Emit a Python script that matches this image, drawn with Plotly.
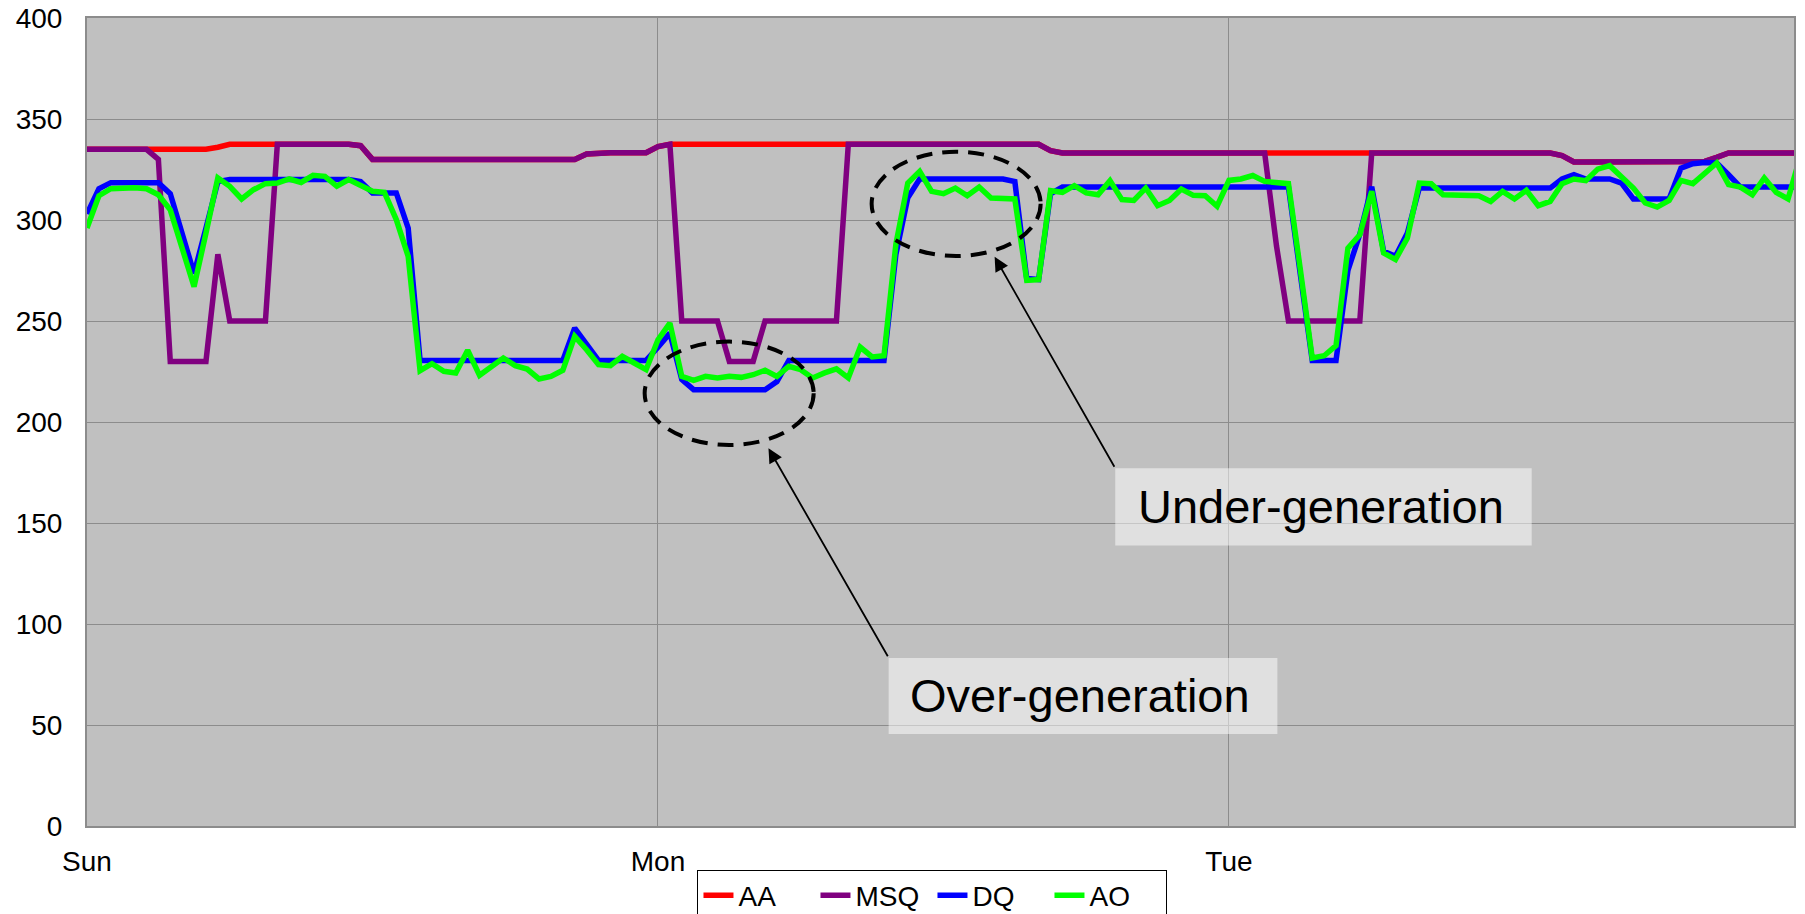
import plotly.graph_objects as go

# half-hour slots starting Sunday 00:00
slots = list(range(145))
day_tick_pos = [0, 48, 96]
day_labels = ["Sun", "Mon", "Tue"]

aa = ([335]*6 + [335]*5 + [336] + [337.5]*4 + [337.5]*7 + [336.8] + [330]*18 + [332.7] + [333.3]*5
      + [336.3, 337.5] + [337.5]*14 + [337.5]*17 + [334.3] + [333.2]*18 + [333.2]*8
      + [333.2]*16 + [331.9] + [328.7]*11 + [329, 331] + [333.2]*8)

msq = ([335]*6 + [330] + [230]*4 + [283] + [250]*4 + [337.5]*7 + [336.8] + [330]*18 + [332.7] + [333.3]*5
       + [336.3, 337.5] + [250]*4 + [230]*3 + [250]*7 + [337.5]*17 + [334.3] + [333.2]*18 + [287] + [250]*7
       + [333.2]*16 + [331.9] + [328.7]*11 + [329, 331] + [333.2]*8)

dq = ([303, 315.5] + [318.5]*5 + [313, 293, 273.5, 296, 319] + [320]*11 + [319] + [313.4]*3 + [296]
      + [230.5]*13 + [246.5, 238] + [230.5]*5 + [237, 244, 221] + [216]*7 + [220] + [230.5]*9
      + [283, 311] + [320.3]*8 + [319, 271, 270.5, 313] + [316.3]*20 + [273] + [230.5]*3
      + [275, 293, 316.5, 284.5, 282, 293.6] + [315.8]*12 + [320.3, 322.4] + [320.3]*3 + [318.3]
      + [310.4]*4 + [325.7, 327.9, 328.5, 328.2, 322.4] + [316.3]*6)

ao = [296, 312, 315.5, 316, 316, 315.5, 312.5, 305, 285.5, 267, 293.5, 320.8, 316.7, 310.4, 315, 318,
      318.3, 320.3, 318.6, 322.1, 321.6, 316.7, 320, 317, 314.2, 313.7, 300.2, 282, 225.4, 228.9,
      225.1, 224.3, 235.5, 223.1, 227.6, 231.7, 227.9, 226.2, 221.3, 222.6, 225.6, 242.4, 235.8,
      228.4, 227.9, 232.5, 229.2, 225.9, 240.7, 249, 222.6, 220.6, 222.6, 221.8, 222.6, 222.1,
      223.4, 225.6, 222.6, 227.6, 225.9, 221.8, 224.3, 226.3, 221.8, 237.1, 232.2, 232.8, 288,
      318.3, 324.1, 314.2, 313, 315.8, 312, 316.3, 310.9, 310.4, 310.4, 270.1, 270.5, 314.5,
      313.7, 317, 313.4, 312.5, 319.5, 310.1, 309.7, 315.8, 307.1, 309.7, 315.3, 312.2, 312,
      306.8, 319.6, 320.3, 322, 319.1, 318.8, 318, 275.4, 231.7, 232.8, 237.8, 286.1, 292.7,
      314.2, 283.7, 280.4, 291.1, 318.3, 318, 312.5, 312.4, 312, 312, 309.2, 314.2, 310.4,
      314.7, 307.1, 309.2, 318, 320.3, 319.5, 325.2, 326.9, 321.6, 315.8, 308.4, 306.4, 309.7,
      319.6, 318, 322.9, 328.2, 317.5, 316.3, 312.5, 320.8, 313.7, 310.4, 331]

series = [("AA", aa, "#FF0000"), ("MSQ", msq, "#800080"), ("DQ", dq, "#0000FF"), ("AO", ao, "#00FF00")]

FONT = "Liberation Sans, Arial, sans-serif"

fig = go.Figure()
for name, vals, col in series:
    fig.add_trace(go.Scatter(x=slots, y=vals, mode="lines", name=name,
                             line=dict(color=col, width=5.5)))

grid = "#8C8C8C"
fig.update_xaxes(range=[0, 143.5], tickvals=day_tick_pos, ticktext=day_labels,
                 showgrid=True, gridcolor=grid, gridwidth=1.2, zeroline=False,
                 showline=True, mirror=True, linecolor=grid, linewidth=2,
                 ticks="", ticklabelstandoff=9,
                 tickfont=dict(size=28, color="black", family=FONT))
fig.update_yaxes(range=[0, 400], dtick=50, tick0=0,
                 showgrid=True, gridcolor=grid, gridwidth=1.2, zeroline=False,
                 showline=True, mirror=True, linecolor=grid, linewidth=2,
                 ticks="", ticklabelstandoff=17,
                 tickfont=dict(size=28, color="black", family=FONT))

shapes = [
    dict(type="circle", xref="x", yref="y", x0=46.88, x1=61.09, y0=188.6, y1=239.8,
         line=dict(color="black", width=4, dash="16px,10px"), layer="above"),
    dict(type="circle", xref="x", yref="y", x0=65.96, x1=80.17, y0=282.2, y1=333.8,
         line=dict(color="black", width=4, dash="16px,10px"), layer="above"),
    dict(type="rect", xref="x", yref="y", x0=67.39, x1=100.07, y0=45.5, y1=83.17,
         fillcolor="rgba(255,255,255,0.5)", line=dict(width=0), layer="above"),
    dict(type="rect", xref="x", yref="y", x0=86.44, x1=121.45, y0=138.8, y1=177.1,
         fillcolor="rgba(255,255,255,0.5)", line=dict(width=0), layer="above"),
]

annotations = [
    dict(x=57.29, y=187.0, ax=67.39, ay=83.3, xref="x", yref="y", axref="x", ayref="y",
         text="", showarrow=True, arrowhead=2, arrowsize=1.6, arrowwidth=1.8,
         arrowcolor="black", standoff=0),
    dict(x=76.3, y=281.8, ax=86.44, ay=177.1, xref="x", yref="y", axref="x", ayref="y",
         text="", showarrow=True, arrowhead=2, arrowsize=1.6, arrowwidth=1.8,
         arrowcolor="black", standoff=0),
    dict(x=83.45, y=64.4, xref="x", yref="y", text="Over-generation", showarrow=False,
         font=dict(size=47, color="black", family=FONT)),
    dict(x=103.76, y=158, xref="x", yref="y", text="Under-generation", showarrow=False,
         font=dict(size=47, color="black", family=FONT)),
]

fig.update_layout(
    width=1805, height=914,
    margin=dict(l=87, r=11, t=18, b=88, autoexpand=False),
    paper_bgcolor="white", plot_bgcolor="#C0C0C0",
    shapes=shapes, annotations=annotations,
    showlegend=True,
    legend=dict(orientation="h", x=0.4953, xanchor="center", y=-0.054, yanchor="top",
                bgcolor="white", bordercolor="black", borderwidth=1,
                font=dict(size=28, color="black", family=FONT),
                entrywidth=72, entrywidthmode="pixels",
                itemwidth=30, tracegroupgap=0),
    font=dict(family=FONT, color="black"),
)

fig.write_html("out.html")
